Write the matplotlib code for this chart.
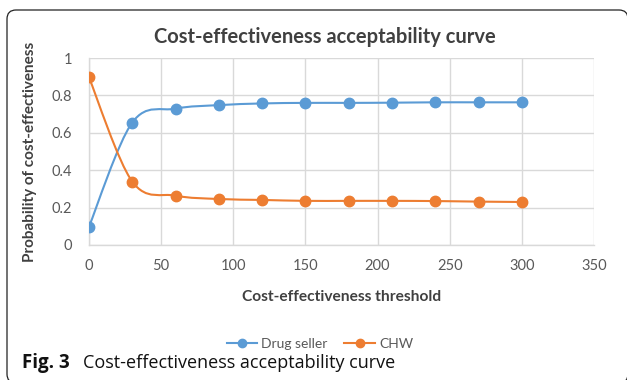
import numpy as np
import matplotlib.pyplot as plt
from matplotlib.path import Path
from matplotlib.patches import PathPatch, FancyBboxPatch

plt.rcParams["font.family"] = ["Lato", "DejaVu Sans"]

threshold = [0, 30, 60, 90, 120, 150, 180, 210, 240, 270, 300]
drug_seller = [0.098, 0.655, 0.729, 0.748, 0.757, 0.760, 0.760, 0.761, 0.763, 0.763, 0.763]
chw = [0.896, 0.339, 0.264, 0.246, 0.241, 0.236, 0.236, 0.236, 0.235, 0.232, 0.230]

blue = "#5B9BD5"
orange = "#ED7D31"
grey_txt = "#595959"
grid_c = "#D9D9D9"


def smooth_path(x, y):
    # Excel-like smoothed line: cubic bezier with catmull-rom style control points
    x = np.asarray(x, float)
    y = np.asarray(y, float)
    n = len(x)
    verts = [(x[0], y[0])]
    codes = [Path.MOVETO]
    t = 1.0 / 6.0
    for i in range(n - 1):
        p0 = np.array([x[max(i - 1, 0)], y[max(i - 1, 0)]])
        p1 = np.array([x[i], y[i]])
        p2 = np.array([x[i + 1], y[i + 1]])
        p3 = np.array([x[min(i + 2, n - 1)], y[min(i + 2, n - 1)]])
        c1 = p1 + (p2 - p0) * t
        c2 = p2 - (p3 - p1) * t
        verts += [tuple(c1), tuple(c2), tuple(p2)]
        codes += [Path.CURVE4] * 3
    return Path(verts, codes)


fig = plt.figure(figsize=(6.27, 3.8), dpi=100)

# rounded frame, right and bottom corners just at the picture edge
frame = FancyBboxPatch((7, -3), 621, 373,
                       boxstyle="round,pad=0,rounding_size=9",
                       transform=None, fill=False,
                       edgecolor="#222222", linewidth=0.9)
fig.patches.append(frame)

ax = fig.add_axes([89 / 627, 1 - 245 / 380, 505 / 627, 187 / 380])

for yv, c, lab in [(drug_seller, blue, "Drug seller"), (chw, orange, "CHW")]:
    ax.add_patch(PathPatch(smooth_path(threshold, yv), fill=False,
                           edgecolor=c, linewidth=1.5, zorder=3))
    ax.plot(threshold, yv, linestyle="none", marker="o", markersize=7.5,
            color=c, zorder=4)
    ax.plot([], [], color=c, marker="o", markersize=6, linewidth=1.5, label=lab)

ax.set_xlim(0, 350)
ax.set_ylim(0, 1)
ax.set_xticks(np.arange(0, 351, 50))
ax.set_yticks([0, 0.2, 0.4, 0.6, 0.8, 1])
ax.set_yticklabels(["0", "0.2", "0.4", "0.6", "0.8", "1"])
ax.grid(True, color=grid_c, linewidth=1.0)
ax.set_axisbelow(True)
for s in ["top", "right"]:
    ax.spines[s].set_visible(False)
for s in ["left", "bottom"]:
    ax.spines[s].set_color(grid_c)
    ax.spines[s].set_linewidth(1.0)
ax.tick_params(length=0, colors=grey_txt, labelsize=10.5)
ax.tick_params(axis="x", pad=10)
ax.tick_params(axis="y", pad=12)

ax.set_xlabel("Cost-effectiveness threshold", fontsize=11.2, fontweight="bold",
              color="#404040", labelpad=12)
ax.set_ylabel("Probability of cost-effectiveness", fontsize=11,
              fontweight="bold", color="#404040", labelpad=11)

fig.text(325 / 627, 1 - 37 / 380, "Cost-effectiveness acceptability curve",
         ha="center", va="center", fontsize=14.5, fontweight="bold",
         color="#404040")

leg = fig.legend(loc="center", bbox_to_anchor=(320 / 627, 1 - 344 / 380),
                 ncol=2, frameon=False, fontsize=10, handlelength=2.2,
                 columnspacing=1.2, handletextpad=0.3)
for t in leg.get_texts():
    t.set_color(grey_txt)

fig.text(22 / 627, 1 - 363 / 380, "Fig. 3", ha="left", va="center",
         fontsize=13.5, fontweight="bold", color="#111111",
         family=["Open Sans", "DejaVu Sans"])
fig.text(83 / 627, 1 - 363 / 380, "Cost-effectiveness acceptability curve",
         ha="left", va="center", fontsize=13, color="#111111",
         family=["Open Sans", "DejaVu Sans"])

fig.savefig("out.png", dpi=100)
